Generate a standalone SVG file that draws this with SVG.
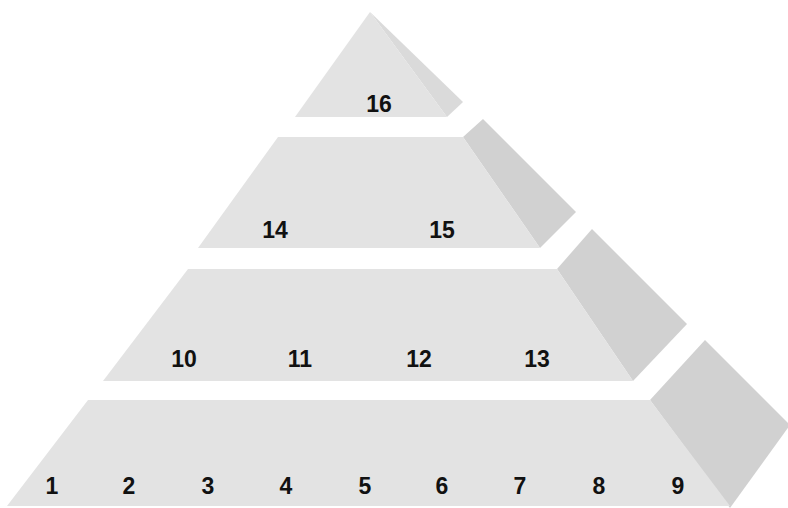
<svg xmlns="http://www.w3.org/2000/svg" width="788" height="508" viewBox="0 0 788 508">
<style>
.front{fill:#e3e3e3}
.side{fill:#d1d1d1}
.side1{fill:#dadada}
text{font-family:"Liberation Sans",Arial,sans-serif;font-size:23px;font-weight:bold;fill:#111;text-anchor:middle}
</style>
<rect width="788" height="508" fill="#ffffff"/>
<g id="tier1">
<polygon class="side1" points="370,12 463,102 447,117"/>
<polygon class="front" points="370,12 447,117 295,117"/>
<text x="379" y="112">16</text>
</g>
<g id="tier2">
<polygon class="side" points="463,137 483,119 576,212 540,248"/>
<polygon class="front" points="278,137 463,137 540,248 198,248"/>
<text x="275" y="238">14</text>
<text x="442" y="238">15</text>
</g>
<g id="tier3">
<polygon class="side" points="557,269 592,229 687,324 633,381"/>
<polygon class="front" points="188,269 557,269 633,381 103,381"/>
<text x="184" y="367">10</text>
<text x="300" y="367">11</text>
<text x="419" y="367">12</text>
<text x="537" y="367">13</text>
</g>
<g id="tier4">
<polygon class="side" points="650,400 705,340 790,425 730,508"/>
<polygon class="front" points="88,400 650,400 730,506 7,506"/>
<text x="52" y="494">1</text>
<text x="129" y="494">2</text>
<text x="208" y="494">3</text>
<text x="286" y="494">4</text>
<text x="365" y="494">5</text>
<text x="442" y="494">6</text>
<text x="520" y="494">7</text>
<text x="599" y="494">8</text>
<text x="678" y="494">9</text>
</g>
</svg>
